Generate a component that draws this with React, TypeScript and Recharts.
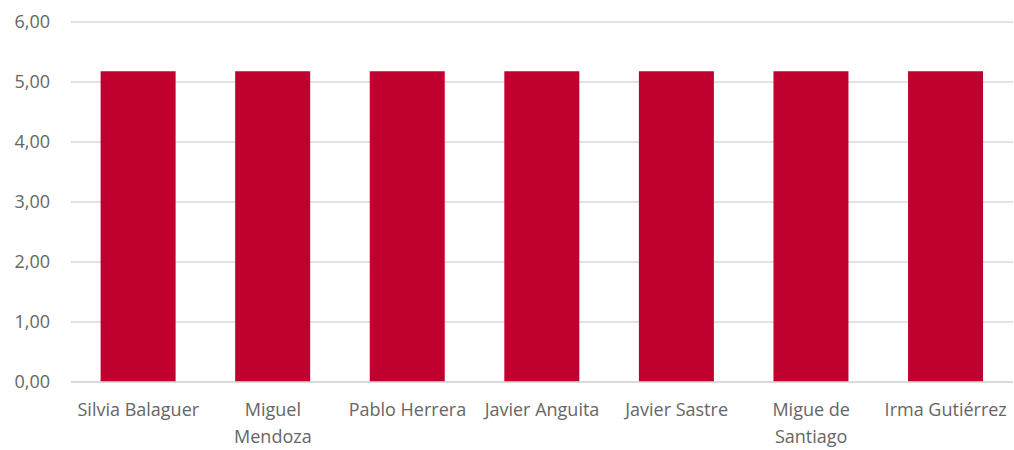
import React from "react";
import { BarChart, Bar, XAxis, YAxis, CartesianGrid } from "recharts";

const categories = [
  "Silvia Balaguer",
  "Miguel\nMendoza",
  "Pablo Herrera",
  "Javier Anguita",
  "Javier Sastre",
  "Migue de\nSantiago",
  "Irma Gutiérrez",
];
const values = [5.18, 5.18, 5.18, 5.18, 5.18, 5.18, 5.18];
const yTicks = [0, 1, 2, 3, 4, 5, 6];

const data = categories.map((c, i) => ({ name: c, value: values[i] }));

const FONT = "'Open Sans', sans-serif";
const TEXT = "#666666";

const XTick = (props: any) => {
  const { x, y, payload } = props;
  const lines = String(payload.value).split("\n");
  return (
    <g transform={`translate(${x},${y})`}>
      {lines.map((l, i) => (
        <text
          key={i}
          x={0}
          y={0}
          dy={26 + i * 27}
          textAnchor="middle"
          fill={TEXT}
          fontFamily={FONT}
          fontSize={18}
        >
          {l}
        </text>
      ))}
    </g>
  );
};

const fmt = (v: number) => v.toFixed(2).replace(".", ",");

export default function App() {
  return (
    <div style={{ position: "absolute", left: 0, top: 0, background: "#fff" }}>
      <BarChart
        width={1014}
        height={450}
        data={data}
        margin={{ top: 22, right: 1, bottom: 0, left: 0 }}
        barCategoryGap="22%"
      >
        <CartesianGrid vertical={false} stroke="#d9d9d9" strokeWidth={1.5} />
        <XAxis
          dataKey="name"
          axisLine={{ stroke: "#d9d9d9", strokeWidth: 1.5 }}
          tickLine={false}
          tick={<XTick />}
          interval={0}
          height={68}
        />
        <YAxis
          domain={[0, 6]}
          ticks={yTicks}
          tickFormatter={fmt}
          axisLine={false}
          tickLine={false}
          width={71}
          tickSize={0}
          tickMargin={21}
          tick={{ fill: TEXT, fontFamily: FONT, fontSize: 18 }}
        />
        <Bar dataKey="value" fill="#C0002E" isAnimationActive={false} />
      </BarChart>
    </div>
  );
}
